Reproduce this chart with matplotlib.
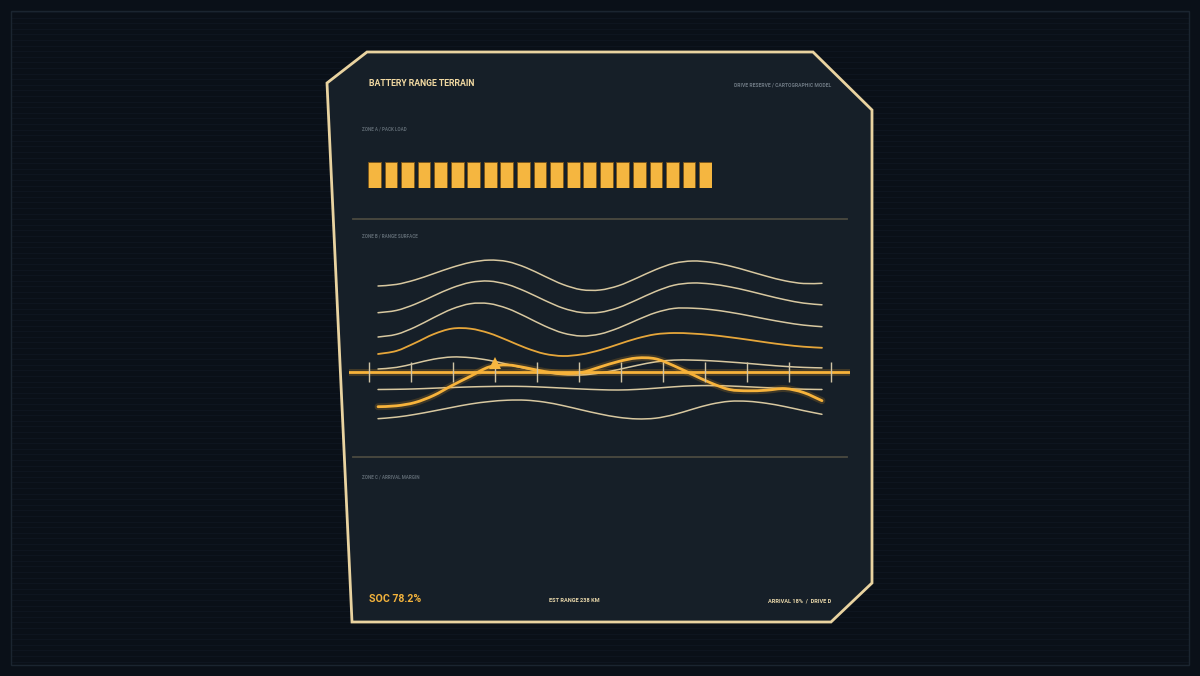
import matplotlib.pyplot as plt
import matplotlib.patches as patches
from matplotlib.path import Path
import numpy as np

# ---- data ----
# zone A: pack cells (all loaded)
cell_ids = list(range(21))
cell_load = [1.0] * 21

# zone B: range surface contours sampled along the route (km), relative elevation
sample_km = np.linspace(4.3, 215.7, 25)
contour_1 = [86.0, 87.6, 92.1, 98.3, 104.6, 109.6, 111.9, 110.4, 104.4, 95.8, 87.5, 82.3, 82.0,
             86.3, 94.0, 102.3, 108.7, 111.0, 109.7, 106.1, 101.1, 95.8, 91.2, 88.5, 88.7]
contour_2 = [59.3, 61.6, 67.8, 76.1, 84.1, 89.6, 90.9, 87.5, 80.4, 71.7, 63.9, 59.5, 59.7,
             64.4, 72.2, 80.5, 86.8, 89.0, 88.0, 85.2, 81.2, 76.6, 72.3, 68.9, 67.2]
contour_3 = [35.0, 37.7, 44.9, 54.3, 63.0, 68.3, 68.4, 63.5, 55.2, 46.1, 39.0, 36.0, 38.0,
             44.0, 52.0, 59.3, 63.6, 63.8, 62.4, 59.8, 56.5, 52.9, 49.6, 46.9, 45.3]
contour_4 = [18.0, 21.1, 29.0, 37.8, 43.4, 43.3, 38.9, 31.7, 24.0, 18.2, 16.0, 17.6, 21.9,
             27.8, 33.6, 37.7, 39.0, 38.4, 37.0, 34.8, 32.3, 29.6, 27.2, 25.3, 24.2]
contour_5 = [3.0, 4.6, 8.6, 12.8, 15.0, 14.3, 11.7, 7.7, 3.4, -0.3, -2.6, -2.9, -1.0,
             2.5, 6.6, 10.1, 11.9, 11.9, 11.2, 10.0, 8.6, 7.0, 5.6, 4.6, 4.1]
contour_6 = [-17.5, -17.3, -16.9, -16.2, -15.5, -14.9, -14.5, -14.3, -14.5, -15.2, -16.1, -17.0, -17.7,
             -18.0, -17.4, -16.2, -14.8, -13.8, -13.6, -14.0, -14.8, -15.7, -16.6, -17.2, -17.5]
contour_7 = [-46.7, -45.1, -42.4, -39.0, -35.4, -32.0, -29.6, -28.2, -28.2, -30.1, -33.6, -37.9, -42.0,
             -45.3, -46.9, -46.2, -42.6, -37.2, -32.2, -29.3, -29.3, -31.3, -34.6, -38.6, -42.3]
route = [-34.7, -33.8, -30.5, -23.5, -13.5, -4.2, 5.0, 7.0, 4.2, 0.5, -1.5, -0.5, 5.0,
         10.5, 14.0, 13.2, 6.2, -2.5, -11.0, -17.5, -18.8, -18.2, -16.6, -20.5, -28.7]
tick_km = [0, 20, 40, 60, 80, 100, 120, 140, 160, 180, 200, 220]
marker_km = 60
marker_elev = 9

# footer readouts
soc = 78.2
est_range_km = 238
arrival_pct = 18
drive_mode = 'D'


def smooth_path(xs, ys):
    # Catmull-Rom through the points, drawn as cubic Bezier segments
    pts = np.column_stack([xs, ys])
    verts = [pts[0]]
    codes = [Path.MOVETO]
    n = len(pts)
    for i in range(n - 1):
        p0 = pts[i - 1] if i > 0 else pts[i]
        p1, p2 = pts[i], pts[i + 1]
        p3 = pts[i + 2] if i + 2 < n else pts[i + 1]
        verts += [p1 + (p2 - p0) / 6, p2 - (p3 - p1) / 6, p2]
        codes += [Path.CURVE4] * 3
    return Path(verts, codes)


def curve(axis, xs, ys, **kw):
    axis.add_patch(patches.PathPatch(smooth_path(xs, ys), fill=False, capstyle='round', **kw))


# ---- figure ----
W, H = 1200, 676
fig = plt.figure(figsize=(12, 6.76), dpi=100)
fig.patch.set_facecolor('#0a1018')
ax = fig.add_axes([0, 0, 1, 1])
ax.set_xlim(0, W)
ax.set_ylim(H, 0)
ax.axis('off')

# faint scanlines + outer frame
for y in np.arange(12, 666, 5.6):
    ax.plot([11, 1189], [y, y], color='#0f1721', lw=0.6, zorder=0)
ax.add_patch(patches.Rectangle((11, 11), 1178, 654, fill=False, ec='#1b2530', lw=1, zorder=1))

# panel
panel = patches.Polygon([(327, 83), (367, 52), (813, 52), (872, 110), (872, 583),
                         (831, 622), (352, 622)], closed=True,
                        fc='#161f28', ec='#e9d3a0', lw=2, zorder=2)
ax.add_patch(panel)

# separators
for y in [219, 457]:
    ax.plot([353, 847], [y, y], color='#4b4a40', lw=1.3, zorder=3)

# header
ax.text(369, 84, 'BATTERY RANGE TERRAIN', color='#f1d9a2', fontsize=6.3,
        fontweight='bold', family='Roboto', va='center', ha='left', zorder=5)
ax.text(831, 85, 'DRIVE RESERVE / CARTOGRAPHIC MODEL', color='#6e7983', fontsize=3.6,
        fontweight='bold', family='Roboto', va='center', ha='right', zorder=5)

zone_style = dict(color='#5d6871', fontsize=3.3, fontweight='bold', family='Roboto',
                  va='center', ha='left', zorder=5)
ax.text(362, 129, 'ZONE A / PACK LOAD', **zone_style)
ax.text(362, 236, 'ZONE B / RANGE SURFACE', **zone_style)
ax.text(362, 477, 'ZONE C / ARRIVAL MARGIN', **zone_style)

# footer
ax.text(369, 599, f'SOC {soc:.1f}%', color='#f3b33c', fontsize=7.6, fontweight='bold',
        family='Roboto', va='center', ha='left', zorder=5)
ax.text(574, 601, f'EST RANGE {est_range_km} KM', color='#e8d7aa', fontsize=4.1,
        fontweight='bold', family='Roboto', va='center', ha='center', zorder=5)
ax.text(831, 601, f'ARRIVAL {arrival_pct}%  /  DRIVE {drive_mode}', color='#e8d7aa',
        fontsize=4.1, fontweight='bold', family='Roboto', va='center', ha='right', zorder=5)

# ---- zone A: pack cells ----
ax_a = fig.add_axes([368 / W, 1 - 188 / H, (712 - 368) / W, 26 / H])
ax_a.bar(cell_ids, cell_load, width=0.77, color='#f5b640', edgecolor='#7a5418', linewidth=0.6)
ax_a.set_xlim(-0.385, 20.385)
ax_a.set_ylim(0, 1)
ax_a.axis('off')

# ---- zone B: range surface ----
ax_b = fig.add_axes([349 / W, 1 - 430 / H, (850 - 349) / W, 180 / H])
ax_b.set_xlim(-9.52, 229.05)
ax_b.set_ylim(-58, 122)
ax_b.axis('off')

for c in [contour_1, contour_2, contour_3, contour_5, contour_6, contour_7]:
    curve(ax_b, sample_km, c, ec='#d8c8a0', lw=1.1, zorder=2)
curve(ax_b, sample_km, contour_4, ec='#e6a63a', lw=1.3, zorder=2)

# route with glow
curve(ax_b, sample_km, route, ec='#f5a623', lw=5, alpha=0.18, zorder=3)
curve(ax_b, sample_km, route, ec='#f7b33b', lw=2.0, zorder=4)

# baseline with glow and ticks
ax_b.axhline(0, color='#f5a623', lw=5, alpha=0.2, zorder=5)
ax_b.axhline(0, color='#f7b33b', lw=2.0, zorder=6)
ax_b.vlines(tick_km, -10, 10, color='#cfc3a5', lw=1.0, zorder=7)

ax_b.plot([marker_km], [marker_elev], marker='^', color='#f5b640', markersize=9,
          markeredgewidth=0, zorder=8)

plt.savefig('out.png', dpi=100, facecolor=fig.get_facecolor())
plt.close()
